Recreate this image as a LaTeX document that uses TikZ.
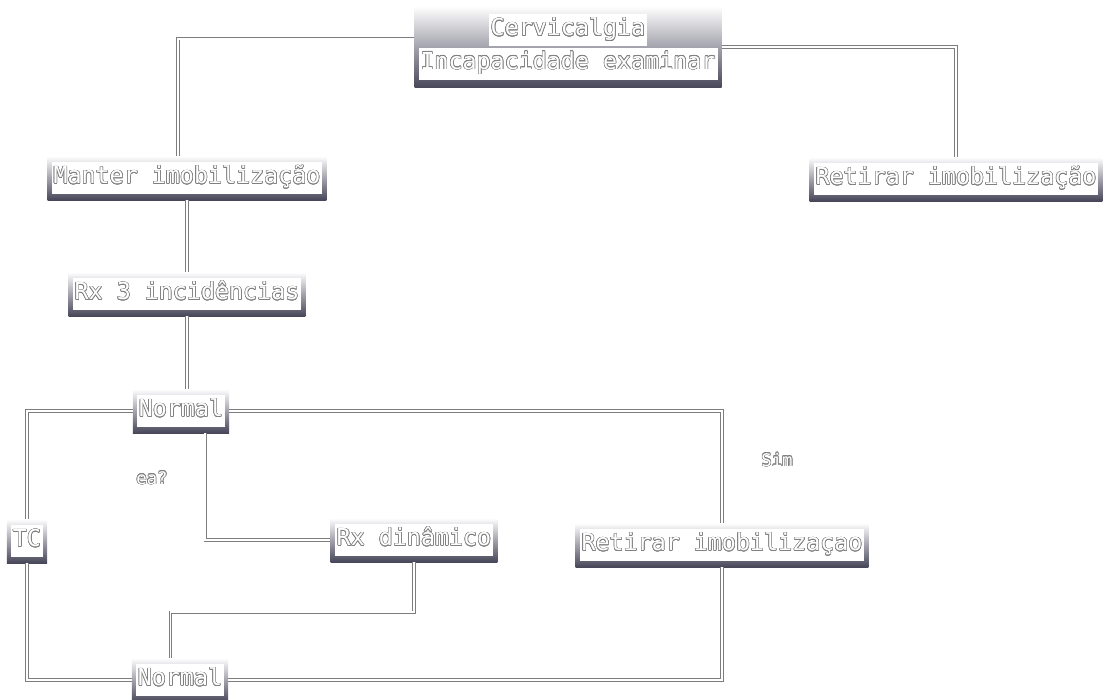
\documentclass[tikz,border=0pt]{standalone}
\usepackage{fontspec}
\setmonofont{DejaVu Sans Mono}
\usepackage{contour}
\contourlength{0.45pt}
\usetikzlibrary{calc}
\definecolor{boxdark}{RGB}{72,71,90}
\definecolor{linegray}{RGB}{125,125,125}
\setlength{\fboxsep}{1.5pt}
% white label strip with outlined letters
\newcommand\boxtext[1]{\colorbox{white}{\strut\contour{gray}{#1}}}

\begin{document}
\begin{tikzpicture}[x=0.75pt,y=0.75pt,yscale=-1,xscale=1,
  lbl/.style={shade, top color=white, bottom color=boxdark, inner xsep=3pt, inner ysep=4.5pt,
    font=\ttfamily\fontsize{17.5}{21}\selectfont, align=center, text=white},
  conn/.style={draw=linegray, double=white, double distance=1.2pt, line width=0.6pt},
  note/.style={font=\ttfamily\fontsize{13}{15}\selectfont, text=white}
]
\useasboundingbox (0,0) rectangle (1105,699);

%Text Node
\node[lbl, inner ysep=6pt] (top) at (568,47) {\boxtext{Cervicalgia}\\\boxtext{Incapacidade examinar}};
%Text Node
\node[lbl] (manter) at (187,178) {\boxtext{Manter imobilização}};
%Text Node
\node[lbl] (retirar1) at (956,179) {\boxtext{Retirar imobilização}};
%Text Node
\node[lbl] (rx3) at (187,294) {\boxtext{Rx 3 incidências}};
%Text Node
\node[lbl] (normal1) at (181,411) {\boxtext{Normal}};
%Text Node
\node[lbl] (tc) at (27,541) {\boxtext{TC}};
%Text Node
\node[lbl] (rxdin) at (414,540) {\boxtext{Rx dinâmico}};
%Text Node
\node[lbl] (retirar2) at (722,545) {\boxtext{Retirar imobilizaçao}};
%Text Node
\node[lbl] (normal2) at (180,680) {\boxtext{Normal}};
%Text Node
\node[note] (sim) at (777,460) {\contour{gray}{Sim}};
%Text Node
\node[note] (pergunta) at (152,478) {\contour{gray}{ea?}};

\coordinate (topleft) at ($(top.west)!0.2!(top.north west)$);
\coordinate (mtop) at ($(manter.north west)!0.935!(manter.north)$);
\coordinate (n1foot) at ($(normal1.south)!0.5!(normal1.south east)$);
\coordinate (n2top) at ($(normal2.north west)!0.8!(normal2.north)$);

%Straight Lines
\draw[conn] (topleft) -| (mtop);
%Straight Lines
\draw[conn] (top.east) -| (retirar1.north);
%Straight Lines
\draw[conn] (manter.south) -- (rx3.north);
%Straight Lines
\draw[conn] (rx3.south) -- (rx3.south |- normal1.north);
%Straight Lines
\draw[conn] (normal1.west) -| (tc.north);
%Straight Lines
\draw[conn] (normal1.east) -| (retirar2.north);
%Straight Lines
\draw[conn] (n1foot) |- (rxdin.west);
%Straight Lines
\draw[conn] (tc.south) |- (normal2.west);
%Straight Lines
\draw[conn] (rxdin.south) -- ++(0,50) -| (n2top);
%Straight Lines
\draw[conn] (retirar2.south) |- (normal2.east);

\end{tikzpicture}
\end{document}
